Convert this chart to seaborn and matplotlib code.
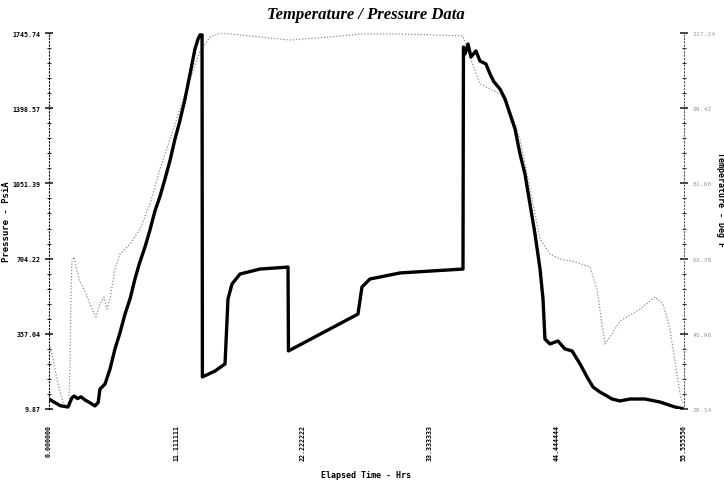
import matplotlib
matplotlib.use("Agg")
import matplotlib.pyplot as plt
import seaborn as sns
import pandas as pd
from matplotlib.ticker import AutoMinorLocator, MultipleLocator

sns.set_style("white")

# ---- data ----
press_time = [0.00, 0.50, 1.00, 1.66, 2.01, 2.20, 2.50, 2.80, 3.20, 3.60, 4.02, 4.30, 4.46,
              4.90, 5.34, 5.77, 6.20, 6.65, 7.10, 7.52, 7.90, 8.40, 8.80, 9.27, 9.70, 10.15,
              10.60, 11.02, 11.40, 11.90, 12.34, 12.77, 13.04, 13.21, 13.39,
              13.42, 14.52, 15.40, 15.66, 16.01, 16.71, 18.46, 20.91,
              20.95, 27.03, 27.38, 28.08, 30.71, 36.22,
              36.26, 36.40, 36.66, 36.92, 37.35, 37.71, 38.23, 38.58, 38.93, 39.46, 39.90,
              40.33, 40.77, 41.21, 41.64, 42.08, 42.52, 42.96, 43.22, 43.39, 43.83, 44.53, 45.14,
              45.76, 46.46, 47.07, 47.60, 48.21, 48.82, 49.26, 49.96, 50.83, 52.14, 53.46, 54.77, 55.56]
pressure = [56, 40, 25, 19, 62, 70, 58, 66, 50, 38, 24, 40, 102,
            125, 195, 287, 360, 448, 520, 610, 680, 758, 830, 924, 990, 1072,
            1160, 1256, 1330, 1441, 1557, 1672, 1718, 1737, 1737,
            158, 185, 218, 518, 587, 633, 656, 665,
            278, 448, 573, 610, 638, 656,
            1681, 1649, 1695, 1635, 1663, 1616, 1603, 1557, 1520, 1487, 1441,
            1372, 1303, 1187, 1095, 956, 818, 656, 518, 333, 310, 324, 287,
            278, 218, 158, 111, 88, 70, 56, 47, 56, 56, 42, 19, 10]

temp_time = [0.00, 0.26, 0.52, 0.79, 1.14, 1.40, 1.75, 1.84, 1.92, 2.01, 2.19, 2.36, 2.71,
             3.15, 3.41, 3.76, 4.11, 4.46, 4.81, 5.07, 5.34, 5.77, 6.21, 7.09, 7.96, 8.84,
             9.71, 10.59, 11.46, 12.34, 13.21, 14.09, 14.96, 17.59, 21.08, 24.58, 27.21,
             30.71, 34.21, 36.22, 36.83, 37.71, 38.58, 39.46, 40.33, 41.21, 42.08, 42.96,
             43.83, 44.71, 46.02, 47.33, 47.94, 48.38, 48.64, 49.08, 49.96, 51.71, 53.02,
             53.72, 54.33, 54.86, 55.30, 55.56]
temperature = [43.54, 41.17, 37.62, 34.06, 30.51, 28.61, 29.32, 39.99, 54.21, 63.21, 64.16,
               61.79, 58.24, 56.10, 54.21, 51.84, 49.94, 53.02, 54.68, 51.84, 54.21, 61.32,
               64.87, 67.24, 70.79, 76.72, 85.01, 92.12, 99.23, 106.34, 112.97, 116.29,
               117.24, 116.53, 115.58, 116.29, 117.00, 117.00, 116.76, 116.53, 111.55,
               105.16, 103.97, 102.79, 99.23, 92.12, 80.27, 68.42, 64.87, 63.69, 62.98,
               61.79, 56.58, 48.28, 43.54, 45.20, 48.99, 51.84, 54.68, 53.02, 47.10, 37.62,
               30.51, 29.09]

left_ticks = [9.87, 357.04, 704.22, 1051.39, 1398.57, 1745.74]
right_ticks = [28.14, 45.96, 63.78, 81.60, 99.42, 117.24]
x_ticks = [0.0, 11.111111, 22.222222, 33.333333, 44.444444, 55.555556]
x_labels = ["0.000000", "11.111111", "22.222222", "33.333333", "44.444444", "55.555556"]

# ---- figure ----
fig = plt.figure(figsize=(7.24, 4.85), dpi=100)
ax = fig.add_axes([49/724, 75/485, 635/724, 376/485])
ax2 = ax.twinx()

dfp = pd.DataFrame({"t": press_time, "p": pressure})
dft = pd.DataFrame({"t": temp_time, "T": temperature})
sns.lineplot(data=dft, x="t", y="T", ax=ax2, sort=False, estimator=None,
             color="#8a8a8a", linewidth=0.9, linestyle=(0, (1, 1.5)))
sns.lineplot(data=dfp, x="t", y="p", ax=ax, sort=False, estimator=None,
             color="black", linewidth=2.4)

ax.set_zorder(ax2.get_zorder() + 1)
ax.patch.set_visible(False)

ax.set_xlim(0, 55.555556)
ax.set_ylim(9.87, 1745.74)
ax2.set_ylim(28.14, 117.24)

mono = dict(family="DejaVu Sans Mono", fontsize=4.8, fontweight="bold", color="black")
ax.set_yticks(left_ticks)
ax.set_yticklabels([f"{v:.2f}" for v in left_ticks], **mono)
ax.yaxis.set_minor_locator(AutoMinorLocator(5))
ax.tick_params(axis="y", which="major", direction="inout", length=6, width=1.2, pad=3)
ax.tick_params(axis="y", which="minor", direction="inout", length=3, width=0.8)

ax2.set_yticks(right_ticks)
ax2.set_yticklabels([f"{v:.2f}" for v in right_ticks], family="DejaVu Sans Mono",
                    fontsize=4.6, color="#9a9a9a")
ax2.yaxis.set_minor_locator(AutoMinorLocator(5))
ax2.tick_params(axis="y", which="major", direction="inout", length=6, width=1.2, pad=3)
ax2.tick_params(axis="y", which="minor", direction="inout", length=3, width=0.8)

ax.set_xticks(x_ticks)
ax.set_xticklabels(x_labels, rotation=90, **mono)
ax.xaxis.set_minor_locator(MultipleLocator(11.111111 / 5))
ax.tick_params(axis="x", which="both", direction="out", length=5, width=1.0, pad=6)

for a in (ax, ax2):
    a.spines["top"].set_visible(False)
    a.spines["bottom"].set_visible(False)
ax.spines["right"].set_visible(False)
ax2.spines["left"].set_visible(False)
ax.spines["left"].set_linestyle((0, (1, 2)))
ax.spines["left"].set_linewidth(0.8)
ax.spines["left"].set_color("black")
ax2.spines["right"].set_linestyle((0, (1, 2)))
ax2.spines["right"].set_linewidth(0.8)
ax2.spines["right"].set_color("#555555")

ax.set_xlabel("")
ax.set_ylabel("")
ax2.set_ylabel("")

fig.text(366/724, 1 - 15/485, "Temperature / Pressure Data", ha="center", va="center",
         family="Liberation Serif", fontsize=12, fontweight="bold", style="italic",
         color="black")
fig.text(366/724, 1 - 476/485, "Elapsed Time - Hrs", ha="center", va="center",
         family="DejaVu Sans Mono", fontsize=6, fontweight="bold", color="black")
fig.text(7/724, 1 - 222/485, "Pressure - PsiA", ha="center", va="center", rotation=90,
         family="DejaVu Sans Mono", fontsize=6.5, fontweight="bold", color="black")
fig.text(720/724, 1 - 200/485, "Temperature - Deg F", ha="center", va="center", rotation=270,
         family="DejaVu Sans Mono", fontsize=6, fontweight="bold", color="black")

fig.savefig("out.png", dpi=100)
